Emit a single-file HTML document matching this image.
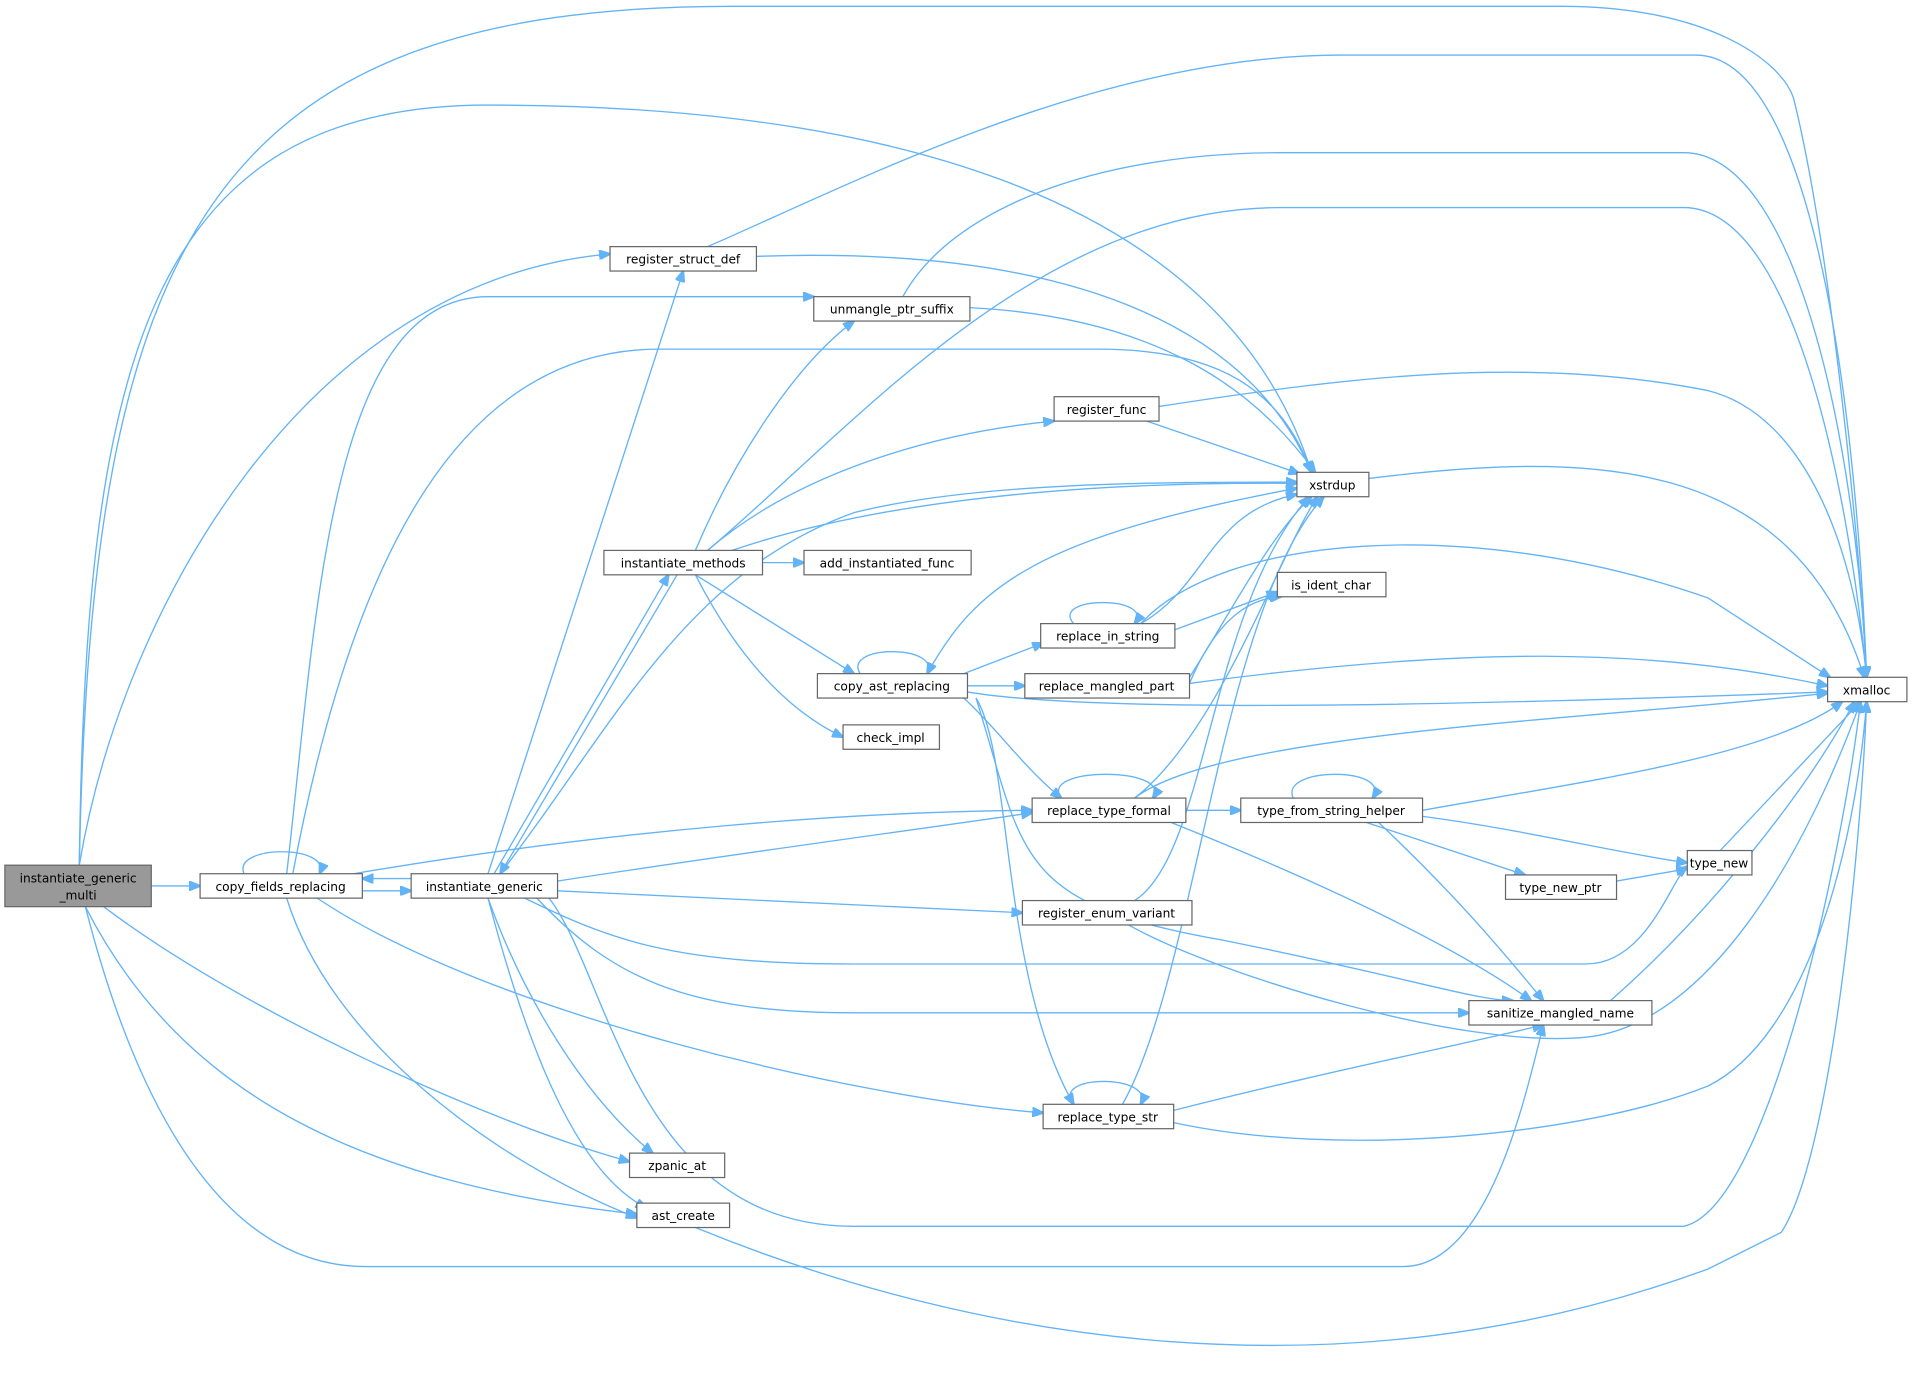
<!DOCTYPE html>
<html><head><meta charset="utf-8"><style>
html,body{margin:0;padding:0;background:#fff;}
svg{display:block;}
text{font-family:"DejaVu Sans","Liberation Sans",sans-serif;font-size:10px;fill:#000;}
.n{fill:#fff;stroke:#666;stroke-width:1;}
.e{fill:none;stroke:#63b3f7;stroke-width:1.1;}
</style></head><body>
<svg width="1913" height="1379" viewBox="0 0 1568 1130" xmlns="http://www.w3.org/2000/svg">
<defs><marker id="a" markerWidth="10" markerHeight="8" refX="9" refY="4" orient="auto" markerUnits="userSpaceOnUse"><path d="M0,0 L10,4 L0,8 z" fill="#63b3f7" stroke="#63b3f7"/></marker></defs>
<g class="e" marker-end="url(#a)">
<path d="M124,726 L164,726"/>
<path d="M65,709 C100,500 250,230 500,208"/>
<path d="M65,709 C70,300 120,86 400,86 C700,86 1000,150 1075,387"/>
<path d="M65,709 C75,200 170,5 600,5 L1280,5 C1400,5 1460,50 1470,80 C1500,200 1525,450 1530,555"/>
<path d="M85,743 C200,830 400,920 516,952"/>
<path d="M70,743 C150,900 300,970 522,995"/>
<path d="M70,743 C110,900 180,1038 300,1038 L1150,1038 C1220,1038 1250,900 1265,840"/>
<path d="M200,716 C190,692 272,692 262,716"/>
<path d="M297,730 L337,730"/>
<path d="M337,720 L297,720"/>
<path d="M235,716 C260,500 270,243 400,243 L667,243"/>
<path d="M240,716 C290,450 380,286 540,286 L900,286 C1000,286 1050,320 1075,387"/>
<path d="M290,716 C500,680 700,665 846,664"/>
<path d="M260,736 C400,830 700,900 855,912"/>
<path d="M235,736 C270,850 400,950 522,998"/>
<path d="M400,716 L560,222"/>
<path d="M405,716 L548,471"/>
<path d="M555,471 L410,716"/>
<path d="M410,716 C500,600 560,470 700,420 C800,395 950,395 1063,395"/>
<path d="M457,722 C600,700 750,680 846,666"/>
<path d="M457,730 L838,748"/>
<path d="M430,736 C500,770 550,790 700,790 L1300,790 C1350,790 1370,720 1383,710"/>
<path d="M440,736 C500,800 560,830 700,830 L1204,830"/>
<path d="M450,736 C500,800 520,1005 700,1005 L1380,1005 C1450,990 1510,700 1525,575"/>
<path d="M400,736 C430,820 480,900 535,945"/>
<path d="M400,736 C430,850 470,960 530,990"/>
<path d="M620,210 C900,200 1030,280 1075,387"/>
<path d="M580,202 C700,150 900,45 1100,45 L1390,45 C1480,45 1520,300 1530,555"/>
<path d="M795,252 C950,260 1030,320 1078,387"/>
<path d="M740,243 C780,170 900,125 1050,125 L1380,125 C1470,125 1520,350 1530,555"/>
<path d="M940,345 L1065,388"/>
<path d="M950,333 C1100,310 1250,290 1400,320 C1480,340 1520,450 1530,555"/>
<path d="M1122,392 C1300,370 1470,370 1528,555"/>
<path d="M570,451 C600,380 650,300 700,263"/>
<path d="M580,451 C650,390 760,355 864,345"/>
<path d="M600,451 C750,400 950,395 1063,396"/>
<path d="M580,451 C700,350 850,170 1050,170 L1380,170 C1470,170 1515,400 1530,555"/>
<path d="M625,461 L659,461"/>
<path d="M570,471 L700,552"/>
<path d="M570,471 C600,530 640,580 691,604"/>
<path d="M705,552 C690,528 772,528 760,552"/>
<path d="M790,552 L855,527"/>
<path d="M793,562 L840,562"/>
<path d="M760,552 C800,480 850,440 1063,400"/>
<path d="M793,567 C900,585 1200,578 1498,567"/>
<path d="M790,572 C820,600 840,630 870,654"/>
<path d="M800,572 C830,620 820,800 880,905"/>
<path d="M800,572 C840,700 830,740 1000,770 C1150,800 1210,820 1240,820"/>
<path d="M880,511 C860,488 947,488 930,511"/>
<path d="M963,516 L1047,485"/>
<path d="M935,511 C990,480 990,420 1063,405"/>
<path d="M935,511 C1000,440 1200,420 1400,490 L1500,555"/>
<path d="M975,555 C1010,500 1040,440 1075,407"/>
<path d="M975,560 C1000,500 1030,490 1050,489"/>
<path d="M975,560 C1200,530 1350,530 1498,562"/>
<path d="M870,654 C850,628 962,628 945,654"/>
<path d="M972,664 L1017,664"/>
<path d="M930,654 C1000,600 1050,450 1080,407"/>
<path d="M930,654 C1000,600 1300,590 1498,568"/>
<path d="M960,674 C1100,730 1200,780 1255,820"/>
<path d="M1060,654 C1048,628 1142,628 1125,654"/>
<path d="M1166,664 C1300,640 1450,620 1510,575"/>
<path d="M1166,669 C1250,680 1330,700 1383,707"/>
<path d="M1120,674 L1250,717"/>
<path d="M1130,674 C1200,740 1240,790 1265,820"/>
<path d="M1325,722 L1383,712"/>
<path d="M1410,697 L1525,575"/>
<path d="M930,738 C990,700 990,500 1073,407"/>
<path d="M925,758 C1000,800 1200,860 1300,850 C1400,840 1480,700 1525,575"/>
<path d="M1320,820 C1400,750 1480,650 1520,575"/>
<path d="M880,905 C860,880 947,880 935,905"/>
<path d="M920,905 C980,800 1000,500 1085,407"/>
<path d="M962,910 C1080,880 1180,860 1265,840"/>
<path d="M962,920 C1100,950 1300,930 1400,890 C1480,850 1520,700 1530,575"/>
<path d="M570,1006 C800,1100 1100,1150 1400,1040 L1460,1010 C1500,950 1525,700 1530,575"/>
</g>
<g>
<rect x="4" y="709" width="120" height="34" fill="#999" stroke="#666"/>
<text x="64" y="723" text-anchor="middle">instantiate_generic</text>
<text x="64" y="737" text-anchor="middle">_multi</text>
<rect class="n" x="164" y="716" width="133" height="20"/><text x="230" y="730" text-anchor="middle">copy_fields_replacing</text>
<rect class="n" x="337" y="716" width="120" height="20"/><text x="397" y="730" text-anchor="middle">instantiate_generic</text>
<rect class="n" x="500" y="202" width="120" height="20"/><text x="560" y="216" text-anchor="middle">register_struct_def</text>
<rect class="n" x="667" y="243" width="128" height="20"/><text x="731" y="257" text-anchor="middle">unmangle_ptr_suffix</text>
<rect class="n" x="864" y="325" width="86" height="20"/><text x="907" y="339" text-anchor="middle">register_func</text>
<rect class="n" x="1063" y="387" width="59" height="20"/><text x="1092" y="401" text-anchor="middle">xstrdup</text>
<rect class="n" x="495" y="451" width="130" height="20"/><text x="560" y="465" text-anchor="middle">instantiate_methods</text>
<rect class="n" x="659" y="451" width="137" height="20"/><text x="727" y="465" text-anchor="middle">add_instantiated_func</text>
<rect class="n" x="1047" y="469" width="89" height="20"/><text x="1091" y="483" text-anchor="middle">is_ident_char</text>
<rect class="n" x="853" y="511" width="110" height="20"/><text x="908" y="525" text-anchor="middle">replace_in_string</text>
<rect class="n" x="670" y="552" width="123" height="20"/><text x="731" y="566" text-anchor="middle">copy_ast_replacing</text>
<rect class="n" x="840" y="552" width="135" height="20"/><text x="907" y="566" text-anchor="middle">replace_mangled_part</text>
<rect class="n" x="1498" y="555" width="65" height="20"/><text x="1530" y="569" text-anchor="middle">xmalloc</text>
<rect class="n" x="691" y="594" width="79" height="20"/><text x="730" y="608" text-anchor="middle">check_impl</text>
<rect class="n" x="846" y="654" width="126" height="20"/><text x="909" y="668" text-anchor="middle">replace_type_formal</text>
<rect class="n" x="1017" y="654" width="149" height="20"/><text x="1091" y="668" text-anchor="middle">type_from_string_helper</text>
<rect class="n" x="1383" y="697" width="53" height="20"/><text x="1409" y="711" text-anchor="middle">type_new</text>
<rect class="n" x="1234" y="717" width="91" height="20"/><text x="1279" y="731" text-anchor="middle">type_new_ptr</text>
<rect class="n" x="838" y="738" width="139" height="20"/><text x="907" y="752" text-anchor="middle">register_enum_variant</text>
<rect class="n" x="1204" y="820" width="150" height="20"/><text x="1279" y="834" text-anchor="middle">sanitize_mangled_name</text>
<rect class="n" x="855" y="905" width="107" height="20"/><text x="908" y="919" text-anchor="middle">replace_type_str</text>
<rect class="n" x="516" y="945" width="78" height="20"/><text x="555" y="959" text-anchor="middle">zpanic_at</text>
<rect class="n" x="522" y="986" width="76" height="20"/><text x="560" y="1000" text-anchor="middle">ast_create</text>
</g>
</svg>
</body></html>
